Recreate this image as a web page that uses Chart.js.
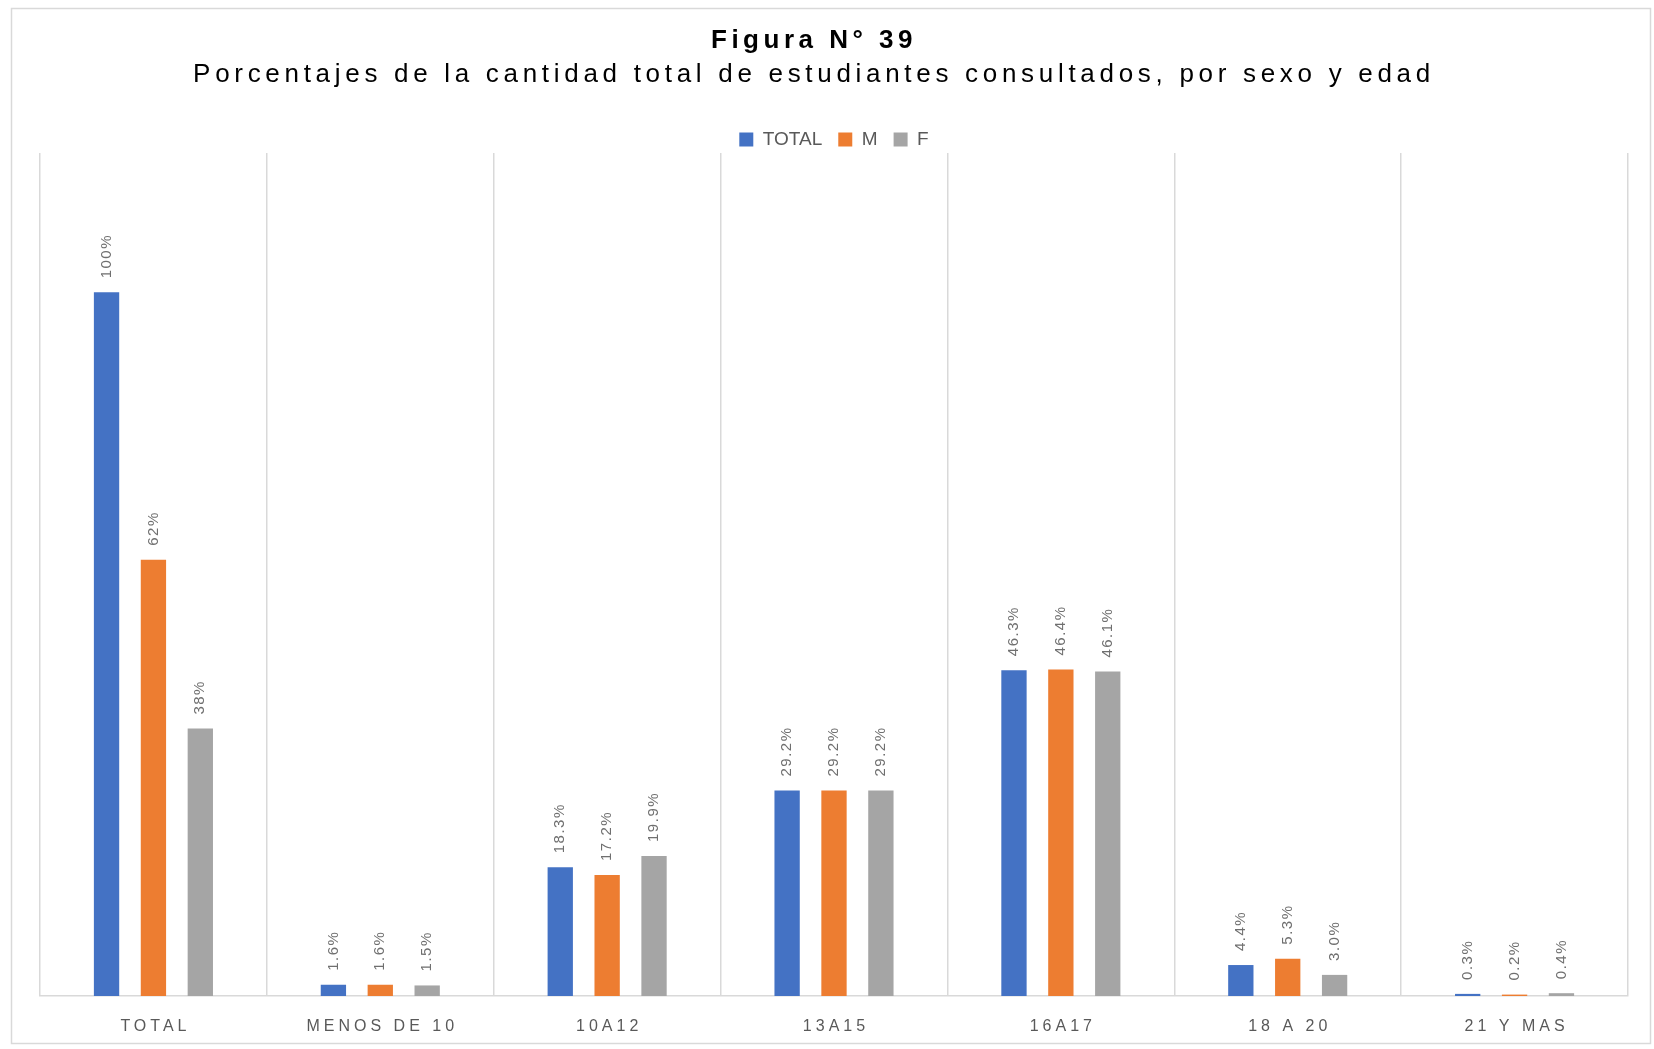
<!DOCTYPE html>
<html>
<head>
<meta charset="utf-8">
<script src="https://cdn.jsdelivr.net/npm/chart.js@4.4.0/dist/chart.umd.min.js"></script>
<style>
  body { margin: 0; background: #fff; }
  #wrap { width: 1654px; height: 1049px; position: relative; }
</style>
</head>
<body>
<div id="wrap"><canvas id="chart"></canvas></div>
<script>
const categories = ["TOTAL", "MENOS DE 10", "10A12", "13A15", "16A17", "18 A 20", "21 Y MAS"];
const totalValues = [100, 1.6, 18.3, 29.2, 46.3, 4.4, 0.3];
const mValues = [62, 1.6, 17.2, 29.2, 46.4, 5.3, 0.2];
const fValues = [38, 1.5, 19.9, 29.2, 46.1, 3.0, 0.4];
const seriesNames = ["TOTAL", "M", "F"];
const colors = ["#4472C4", "#ED7D31", "#A5A5A5"];

const FONT = "'Liberation Sans', Arial, sans-serif";

// first group shows whole percents, the rest one decimal
function fmt(v, i) {
    return i === 0 ? v + "%" : v.toFixed(1) + "%";
}

// pull the plot a bit closer under the legend
const legendFitPlugin = {
    id: "legendFit",
    beforeLayout(chart) {
        const lg = chart.legend;
        if (lg && !lg._patched) {
            const orig = lg.fit;
            lg.fit = function () {
                orig.call(this);
                this.height -= 6;
            };
            lg._patched = true;
        }
    }
};

const decorPlugin = {
    id: "decor",
    afterDraw(chart) {
        const ctx = chart.ctx;
        const area = chart.chartArea;
        ctx.save();

        // frame
        ctx.strokeStyle = "#d9d9d9";
        ctx.lineWidth = 1.5;
        ctx.strokeRect(11.5, 8.5, 1639, 1035);

        // titles
        ctx.fillStyle = "#000";
        ctx.textAlign = "center";
        ctx.textBaseline = "middle";
        ctx.font = "bold 26px " + FONT;
        ctx.letterSpacing = "4.5px";
        ctx.fillText("Figura N° 39", 814, 41);
        ctx.font = "26px " + FONT;
        ctx.letterSpacing = "4.7px";
        ctx.fillText("Porcentajes de la cantidad total de estudiantes consultados, por sexo y edad", 814, 75);

        // value labels, rotated
        ctx.font = "15px " + FONT;
        ctx.fillStyle = "#6f6f6f";
        ctx.letterSpacing = "1.5px";
        ctx.textAlign = "left";
        chart.data.datasets.forEach((ds, di) => {
            chart.getDatasetMeta(di).data.forEach((bar, i) => {
                ctx.save();
                ctx.translate(bar.x, bar.y - 14);
                ctx.rotate(-Math.PI / 2);
                ctx.fillText(fmt(ds.data[i], i), 0, 0);
                ctx.restore();
            });
        });

        // category labels
        const xs = chart.scales.x;
        ctx.font = "16px " + FONT;
        ctx.fillStyle = "#595959";
        ctx.letterSpacing = "4px";
        ctx.textAlign = "center";
        categories.forEach((c, i) => {
            ctx.fillText(c, xs.getPixelForValue(i) + 2, area.bottom + 31);
        });
        ctx.restore();
    }
};

new Chart(document.getElementById("chart"), {
    type: "bar",
    data: {
        labels: categories,
        datasets: [
            { label: seriesNames[0], data: totalValues, backgroundColor: colors[0] },
            { label: seriesNames[1], data: mValues, backgroundColor: colors[1] },
            { label: seriesNames[2], data: fValues, backgroundColor: colors[2] }
        ]
    },
    options: {
        responsive: true,
        maintainAspectRatio: false,
        animation: false,
        datasets: { bar: { barPercentage: 0.54, categoryPercentage: 0.62 } },
        layout: { padding: { top: 114, left: 40, right: 26, bottom: 53 } },
        plugins: {
            legend: {
                position: "top",
                labels: {
                    boxWidth: 14,
                    boxHeight: 14,
                    padding: 16,
                    color: "#595959",
                    font: { family: FONT, size: 19 }
                }
            },
            title: { display: false },
            tooltip: { enabled: false }
        },
        scales: {
            x: {
                ticks: { display: false },
                grid: { color: "#d9d9d9", lineWidth: 1.5, drawTicks: false },
                border: { color: "#d9d9d9", width: 1.5 }
            },
            y: { display: false, min: 0, max: 119.8 }
        }
    },
    plugins: [legendFitPlugin, decorPlugin]
});
</script>
</body>
</html>
